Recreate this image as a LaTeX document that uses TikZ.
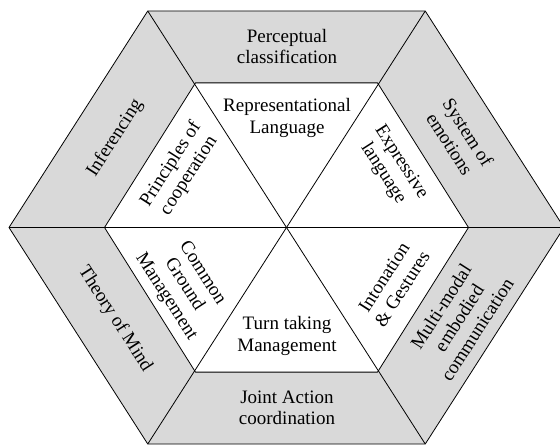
\documentclass[tikz,border=0pt]{standalone}
\usepackage{fontspec}
\setmainfont{Liberation Serif}

\begin{document}
\begin{tikzpicture}[
    x=1pt, y=1pt,
    edge/.style={draw=black, line width=0.8pt},
    lbl/.style={align=center, inner sep=0pt, font=\fontsize{19}{21.5}\selectfont}
]
\useasboundingbox (0,0) rectangle (560,445);

% Hexagon corners
\coordinate (mid) at (286.5,217.5);
\foreach \i in {0,...,5} {
  \coordinate (out\i) at ({286.5+277.5*cos(60*\i)}, {217.5+250*sin(60*\i)});
  \coordinate (in\i) at ({286.5+182*cos(60*\i)}, {217.5+167*sin(60*\i)});
}

% Gray ring
\fill[black!15, even odd rule] (out0) -- (out1) -- (out2) -- (out3) -- (out4) -- (out5) -- cycle
  (in0) -- (in1) -- (in2) -- (in3) -- (in4) -- (in5) -- cycle;
\draw[edge] (out0) -- (out1) -- (out2) -- (out3) -- (out4) -- (out5) -- cycle;
\draw[edge] (in0) -- (in1) -- (in2) -- (in3) -- (in4) -- (in5) -- cycle;
\foreach \i in {0,...,5} \draw[edge] (mid) -- (out\i);

% Outer ring
\node[lbl] (percept) at (287,398.5) {Perceptual\\classification};
\node[lbl, rotate=57.3] (infer) at (115,307) {Inferencing};
\node[lbl, rotate=-57.3] (emotion) at (459,307) {System of\\emotions};
\node[lbl, rotate=-57.3] (mind) at (115,126) {Theory of Mind};
\node[lbl, rotate=57.3] (multimodal) at (459,127) {Multi-modal\\embodied\\communication};
\node[lbl] (joint) at (287,37) {Joint Action\\coordination};

% Inner triangles
\node[lbl] (repr) at (287,327) {Representational\\Language};
\node[lbl, rotate=57.3] (coop) at (180,275) {Principles of\\cooperation};
\node[lbl, rotate=-57.3] (express) at (392,277) {Expressive\\language};
\node[lbl, rotate=-57.3] (ground) at (184,160) {Common\\Ground\\Management};
\node[lbl, rotate=57.3] (inton) at (393,162) {Intonation\\\& Gestures};
\node[lbl] (turn) at (287,109) {Turn taking\\Management};

\end{tikzpicture}
\end{document}
